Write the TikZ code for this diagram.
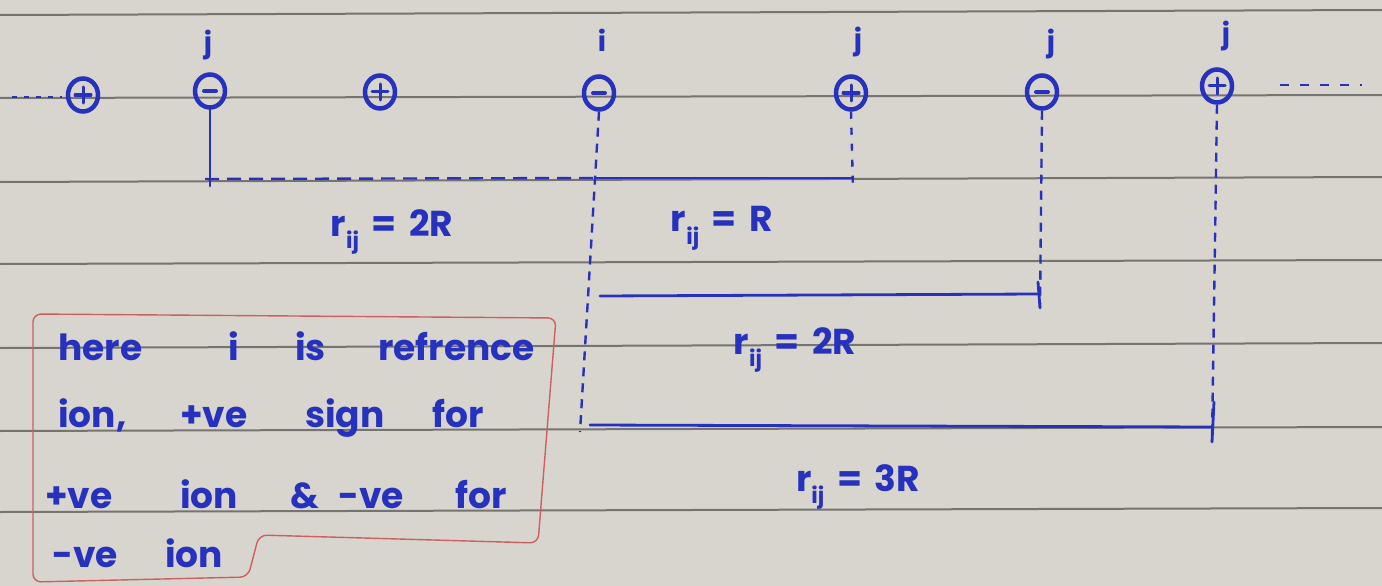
\documentclass[tikz,border=0pt]{standalone}
\usepackage{fontspec}
\setmainfont{Poppins}
\definecolor{ink}{RGB}{38,50,190}
\definecolor{paper}{RGB}{216,213,207}
\definecolor{ruling}{RGB}{118,116,112}
\definecolor{boxred}{RGB}{205,95,95}
\newcommand{\rlabel}[1]{r\raisebox{-0.35em}{\fontsize{22}{24}\selectfont ij}\hspace{0.35em}=\hspace{0.35em}#1}
\tikzset{
  ink/.style={draw=ink, line width=2.8pt, line cap=round},
  ion/.style={ellipse, draw=ink, line width=4.5pt, minimum width=30pt, minimum height=33pt, inner sep=0pt},
  plusion/.style={ion, path picture={
      \draw[ink, line width=3pt] ([xshift=-8pt]path picture bounding box.center) -- ([xshift=8pt]path picture bounding box.center);
      \draw[ink, line width=3pt] ([yshift=-8pt]path picture bounding box.center) -- ([yshift=8pt]path picture bounding box.center);}},
  minusion/.style={ion, path picture={
      \draw[ink, line width=4pt] ([xshift=-6pt]path picture bounding box.center) -- ([xshift=6pt]path picture bounding box.center);}},
  idx/.style={text=ink, font=\bfseries\fontsize{28}{30}\selectfont, inner sep=0pt},
  lab/.style={text=ink, font=\bfseries\fontsize{36}{40}\selectfont, inner sep=0pt},
  word/.style={text=ink, font=\bfseries\fontsize{36}{40}\selectfont, inner sep=0pt, anchor=base west},
  dashline/.style={draw=ink, line width=2.4pt, dash pattern=on 9pt off 7pt},
  dotline/.style={draw=ink, line width=2.4pt, dash pattern=on 7pt off 9pt},
  paperline/.style={draw=ruling, line width=2pt},
}
\usetikzlibrary{shapes.geometric}
\begin{document}
\begin{tikzpicture}[x=1pt, y=-1pt]
\fill[paper] (0,0) rectangle (1382,586);
\useasboundingbox (0,0) rectangle (1382,586);
% ruled paper
\draw[paperline] (0,15) -- (1382,10);
\draw[paperline] (0,98) -- (1382,95);
\draw[paperline] (0,182) -- (1382,177);
\draw[paperline] (0,264) -- (1382,260);
\draw[paperline] (0,348) -- (1382,343);
\draw[paperline] (0,431) -- (1382,427);
\draw[paperline] (0,512) -- (1382,508);

% ions
\node[plusion]  (p0) at (83,95) {};
\node[minusion] (j1) at (210,91) {};
\node[plusion]  (p1) at (380,92) {};
\node[minusion] (i)  at (599,93) {};
\node[plusion]  (j2) at (851,93) {};
\node[minusion] (j3) at (1042,92) {};
\node[plusion]  (j4) at (1217,86) {};

% index labels
\node[idx] (lj1) at (208,45) {j};
\node[idx] (li)  at (602,40) {i};
\node[idx] (lj2) at (858,42) {j};
\node[idx] (lj3) at (1051,44) {j};
\node[idx] (lj4) at (1226,36) {j};

% continuation dots
\coordinate (ldA) at (12,97);
\coordinate (ldB) at (62,97);
\draw[dotline, dash pattern=on 5pt off 7pt] (ldA) -- (ldB);
\coordinate (rdA) at (1280,85);
\coordinate (rdB) at (1362,85);
\draw[dashline, dash pattern=on 9pt off 11pt] (rdA) -- (rdB);

% bar end coordinates
\coordinate (a1) at (210,186);
\coordinate (a2) at (580,432);
\coordinate (a3) at (853,190);
\coordinate (a4) at (1040,308);
\coordinate (a5) at (1212,442);
\coordinate (h1a) at (205,179);
\coordinate (h1m) at (596,178);
\coordinate (h1b) at (853,178);
\coordinate (h2a) at (600,296);
\coordinate (h2b) at (1038,294);
\coordinate (h3a) at (590,425);
\coordinate (h3b) at (1212,427);
\coordinate (t2a) at (1038,282);
\coordinate (t3a) at (1214,402);

% vertical lines from ions
\draw[ink] (j1.south) -- (a1);
\draw[dashline] (i.south) -- (a2);
\draw[dotline] (j2.south) -- (a3);
\draw[dashline] (j3.south) -- (a4);
\draw[dashline] (j4.south) -- (a5);

% horizontal distance bars
\draw[dashline, dash pattern=on 14pt off 8pt] (h1a) -- (h1m);
\draw[ink] (h1m) -- (h1b);
\draw[ink] (h2a) -- (h2b);
\draw[ink] (t2a) -- (a4);
\draw[ink] (h3a) -- (h3b);
\draw[ink] (t3a) -- (a5);

% distance labels
\node[lab] (d1) at (392,232) {\rlabel{2R}};
\node[lab] (d2) at (722,228) {\rlabel{R}};
\node[lab] (d3) at (795,350) {\rlabel{2R}};
\node[lab] (d4) at (858,487) {\rlabel{3R}};

% note box
\draw[boxred, line width=1.4pt, rounded corners=8pt]
  (33,582) -- (33,314) -- (556,318) -- (538,543) -- (259,535) -- (248,577) -- cycle;
\node[word] (w1) at (58,360) {here};
\node[word] (w2) at (228,360) {i};
\node[word] (w3) at (295,360) {is};
\node[word] (w4) at (378,360) {refrence};
\node[word] (w5) at (58,427) {ion,};
\node[word] (w6) at (180,427) {+ve};
\node[word] (w7) at (305,427) {sign};
\node[word] (w8) at (432,427) {for};
\node[word] (w9) at (45,508) {+ve};
\node[word] (w10) at (180,508) {ion};
\node[word] (w11) at (290,508) {\&};
\node[word] (w12) at (338,508) {-ve};
\node[word] (w13) at (455,508) {for};
\node[word] (w14) at (52,567) {-ve};
\node[word] (w15) at (165,567) {ion};
\end{tikzpicture}
\end{document}
